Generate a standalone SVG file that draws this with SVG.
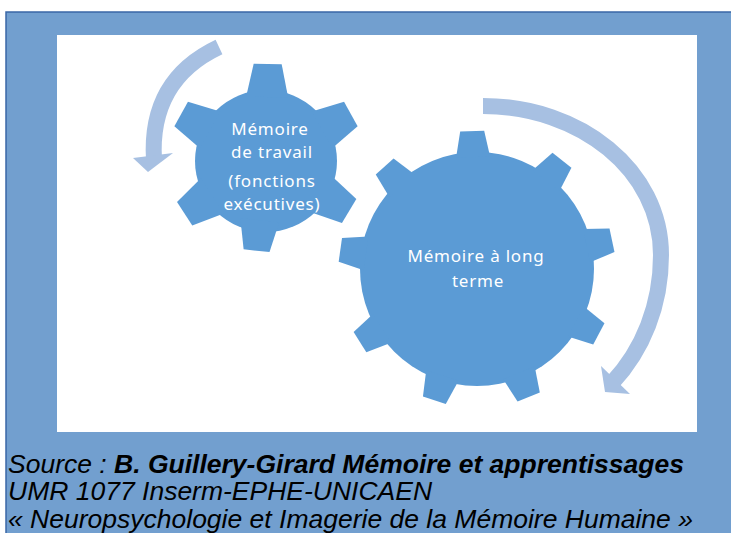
<svg xmlns="http://www.w3.org/2000/svg" xmlns:xlink="http://www.w3.org/1999/xlink" width="731" height="533" viewBox="0 0 731 533">
<style>
.gear{fill:#5B9BD5}
.arc{fill:none;stroke:#A7C0E2;stroke-width:16}
.head{fill:#A7C0E2}
.gt{font-family:"Noto Sans","Open Sans",sans-serif;font-size:17px;fill:#FFFFFF;text-anchor:middle;letter-spacing:0.8px}
.cap{font-family:"Liberation Sans",Arial,sans-serif;font-size:26.5px;font-style:italic;fill:#000000}
</style>
<defs>
<polygon id="toothS" points="-21,-64 21,-64 14,-97 -14,-97"/>
<polygon id="toothB" points="-17,-112 17,-112 12,-138 -12,-138"/>
</defs>
<rect x="6" y="12" width="740" height="540" fill="#729FCF" stroke="#3A67A7" stroke-width="1.5"/>
<rect x="57" y="35" width="640" height="397" fill="#FFFFFF"/>
<g id="connectors">
<path class="arc" d="M219,47 Q149,80 154,160"/>
<polygon class="head" points="133,158 173,153 148,172"/>
<path class="arc" d="M483,106 C580,106 661,170 661,255 C661,305 643,350 612,383"/>
<polygon class="head" points="601,366 630,394 605,392"/>
</g>
<g id="gear-travail" class="gear">
<circle cx="266" cy="161" r="71"/>
<use xlink:href="#toothS" transform="translate(266,161) rotate(1)"/>
<use xlink:href="#toothS" transform="translate(266,161) rotate(61)"/>
<use xlink:href="#toothS" transform="translate(266,161) rotate(121)"/>
<use xlink:href="#toothS" transform="translate(266,161) scale(0.93) rotate(186)"/>
<use xlink:href="#toothS" transform="translate(266,161) rotate(237)"/>
<use xlink:href="#toothS" transform="translate(266,161) rotate(299)"/>
<text class="gt" x="270" y="135">Mémoire</text>
<text class="gt" x="272" y="158">de travail</text>
<text class="gt" x="272" y="187">(fonctions</text>
<text class="gt" x="272" y="210">exécutives)</text>
</g>
<g id="gear-long-terme" class="gear">
<circle cx="477" cy="269" r="117"/>
<use xlink:href="#toothB" transform="translate(477,269) rotate(-2)"/>
<use xlink:href="#toothB" transform="translate(477,269) rotate(38)"/>
<use xlink:href="#toothB" transform="translate(477,269) rotate(78)"/>
<use xlink:href="#toothB" transform="translate(477,269) rotate(118)"/>
<use xlink:href="#toothB" transform="translate(477,269) rotate(158)"/>
<use xlink:href="#toothB" transform="translate(477,269) rotate(198)"/>
<use xlink:href="#toothB" transform="translate(477,269) rotate(238)"/>
<use xlink:href="#toothB" transform="translate(477,269) rotate(278)"/>
<use xlink:href="#toothB" transform="translate(477,269) rotate(318)"/>
<text class="gt" x="476" y="262">Mémoire à long</text>
<text class="gt" x="478" y="287">terme</text>
</g>
<g id="caption">
<text class="cap" x="8" y="473">Source : <tspan font-weight="bold">B. Guillery-Girard Mémoire et apprentissages</tspan></text>
<text class="cap" x="8" y="500">UMR 1077 Inserm-EPHE-UNICAEN</text>
<text class="cap" x="8" y="528">« Neuropsychologie et Imagerie de la Mémoire Humaine »</text>
</g>
</svg>
